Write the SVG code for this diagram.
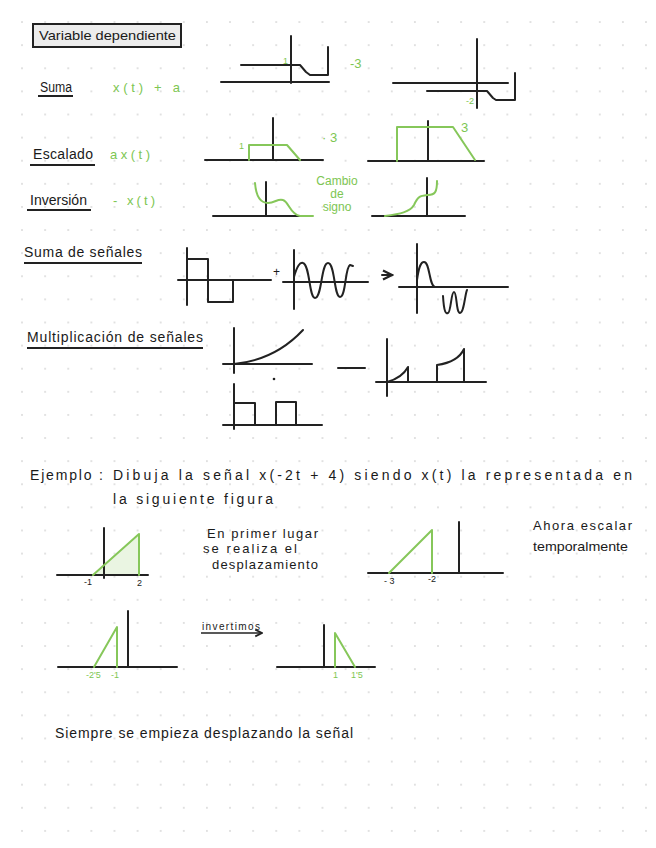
<svg xmlns="http://www.w3.org/2000/svg" width="656" height="848" viewBox="0 0 656 848">
<defs>
<pattern id="dots" x="10.5" y="10.5" width="23.11" height="23.11" patternUnits="userSpaceOnUse">
<circle cx="11.55" cy="11.55" r="1" fill="#d9d9d9"/>
</pattern>
<marker id="ah" viewBox="0 0 8 8" refX="7" refY="4" markerWidth="6" markerHeight="6" orient="auto">
<path d="M1,1 L7,4 L1,7" fill="none" stroke="#222" stroke-width="1.5"/>
</marker>
<style>
.k{fill:none;stroke:#222;stroke-width:2;stroke-linecap:round;stroke-linejoin:round}
.g{fill:none;stroke:#86c75a;stroke-width:2;stroke-linecap:round;stroke-linejoin:round}
.t{font-family:"Liberation Sans",Arial,sans-serif;font-size:14px;fill:#1a1a1a}
.tg{font-family:"Liberation Sans",Arial,sans-serif;font-size:13px;fill:#7dc652}
.s{font-size:9px}
.u{stroke:#222;stroke-width:2}
</style>
</defs>
<rect width="656" height="848" fill="#fff"/>
<rect width="656" height="848" fill="url(#dots)"/>

<g id="title">
<rect x="33" y="24" width="148" height="23" fill="#ececec" stroke="#222" stroke-width="2"/>
<text class="t" x="39" y="40" textLength="137" lengthAdjust="spacingAndGlyphs" style="font-size:13px">Variable dependiente</text>
</g>

<g id="suma">
<text class="t" x="40" y="92" textLength="32" lengthAdjust="spacingAndGlyphs">Suma</text>
<line class="u" x1="38" y1="96" x2="73" y2="96"/>
<text class="tg" x="113" y="92" textLength="67" lengthAdjust="spacing">x(t) + a</text>
<line class="k" x1="221" y1="82" x2="329" y2="82"/>
<line class="k" x1="291" y1="36" x2="291" y2="83"/>
<polyline class="k" points="241,65 300,65 306,72 310,75 328,75 328,47"/>
<text class="tg s" x="283" y="64">1</text>
<text class="tg" x="350" y="68">-3</text>
<line class="k" x1="393" y1="83" x2="508" y2="83"/>
<line class="k" x1="477" y1="39" x2="477" y2="108"/>
<polyline class="k" points="427,91 487,91 493,98 496,100 515,100 515,73"/>
<text class="tg s" x="466" y="104">-2</text>
</g>

<g id="escalado">
<text class="t" x="33" y="159" textLength="60" lengthAdjust="spacing">Escalado</text>
<line class="u" x1="30" y1="165" x2="95" y2="165"/>
<text class="tg" x="110" y="159" textLength="40" lengthAdjust="spacing">ax(t)</text>
<line class="k" x1="205" y1="160" x2="323" y2="160"/>
<line class="k" x1="273" y1="118" x2="273" y2="160"/>
<polyline class="g" points="249,160 249,145 287,145 300,160"/>
<text class="tg s" x="239" y="149">1</text>
<text class="tg" x="322" y="142">· 3</text>
<line class="k" x1="368" y1="161" x2="484" y2="161"/>
<line class="k" x1="428" y1="121" x2="428" y2="161"/>
<polyline class="g" points="397,161 397,127 453,127 475,160"/>
<text class="tg" x="461" y="132">3</text>
</g>

<g id="inversion">
<text class="t" x="30" y="205" textLength="57" lengthAdjust="spacingAndGlyphs">Inversión</text>
<line class="u" x1="27" y1="210" x2="91" y2="210"/>
<text class="tg" x="113" y="205" textLength="42" lengthAdjust="spacing">- x(t)</text>
<line class="k" x1="213" y1="216" x2="300" y2="216"/>
<line class="k" x1="266" y1="182" x2="266" y2="216"/>
<path class="g" d="M255,183 C256,196 260,203 268,203 C275,203 278,198 283,200 C289,202 290,214 300,216 L313,216"/>
<text class="tg" x="337" y="185" text-anchor="middle" style="font-size:12px">Cambio</text>
<text class="tg" x="337" y="198" text-anchor="middle" style="font-size:12px">de</text>
<text class="tg" x="337" y="211" text-anchor="middle" style="font-size:12px">signo</text>
<line class="k" x1="372" y1="216" x2="465" y2="216"/>
<line class="k" x1="427" y1="178" x2="427" y2="216"/>
<path class="g" d="M385,216 C400,214 410,212 414,205 C418,196 420,196 428,195 C435,195 437,192 437,181"/>
</g>

<g id="suma-senales">
<text class="t" x="24" y="257" textLength="118" lengthAdjust="spacing">Suma de señales</text>
<line class="u" x1="24" y1="263" x2="142" y2="263"/>
<line class="k" x1="178" y1="280" x2="271" y2="280"/>
<line class="k" x1="187" y1="248" x2="187" y2="305"/>
<polyline class="k" points="187,259 208,259 208,302 233,302 233,280"/>
<text class="t" x="273" y="276" style="font-size:12px">+</text>
<line class="k" x1="283" y1="282" x2="368" y2="282"/>
<line class="k" x1="294" y1="250" x2="294" y2="309"/>
<path class="k" d="M294,277 C297,266 300,262 303,263 C310,265 309,298 315,298 C322,298 321,263 328,263 C335,263 334,297 340,297 C346,297 345,267 350,265 L353,266"/>
<line class="k" x1="382" y1="275" x2="392" y2="275" marker-end="url(#ah)"/>
<line class="k" x1="399" y1="287" x2="508" y2="287"/>
<line class="k" x1="417" y1="244" x2="417" y2="313"/>
<path class="k" d="M417,280 C419,266 421,262 424,262 C430,262 429,286 435,287 L441,287 M443,296 C444,313 446,314 448,313 C451,312 451,292 454,292 C457,292 456,313 460,313 C464,313 465,294 467,290"/>
</g>

<g id="mult-senales">
<text class="t" x="27" y="342" textLength="176" lengthAdjust="spacing">Multiplicación de señales</text>
<line class="u" x1="27" y1="348" x2="203" y2="348"/>
<line class="k" x1="223" y1="364" x2="312" y2="364"/>
<line class="k" x1="234" y1="328" x2="234" y2="373"/>
<path class="k" d="M234,364 Q275,360 303,330"/>
<circle cx="274" cy="379" r="1.3" fill="#222"/>
<line class="k" x1="223" y1="425" x2="322" y2="425"/>
<line class="k" x1="234" y1="384" x2="234" y2="429"/>
<polyline class="k" points="234,403 255,403 255,425"/>
<polyline class="k" points="276,425 276,402 296,402 296,425"/>
<line class="k" x1="338" y1="368" x2="365" y2="368"/>
<line class="k" x1="376" y1="382" x2="486" y2="382"/>
<line class="k" x1="387" y1="339" x2="387" y2="396"/>
<path class="k" d="M387,382 Q402,378 408,367 L408,382"/>
<path class="k" d="M437,382 L437,365 Q458,362 464,349 L464,382"/>
</g>

<g id="ejemplo">
<text class="t" x="30" y="480" textLength="73" lengthAdjust="spacing">Ejemplo :</text>
<text class="t" x="113" y="480" textLength="519" lengthAdjust="spacing">Dibuja la señal x(-2t + 4) siendo x(t) la representada en</text>
<text class="t" x="113" y="504" textLength="160" lengthAdjust="spacing">la siguiente figura</text>
</g>

<g id="graf1">
<polygon points="93,575 139,534 139,575" fill="#eaf5e2"/>
<line class="k" x1="57" y1="575" x2="148" y2="575"/>
<line class="k" x1="104" y1="528" x2="104" y2="578"/>
<polyline class="g" points="93,575 139,534 139,575"/>
<text class="t s" x="84" y="585">-1</text>
<text class="t s" x="137" y="586">2</text>
</g>

<g id="nota1">
<text class="t" x="207" y="538" textLength="111" lengthAdjust="spacing" style="font-size:13px">En primer lugar</text>
<text class="t" x="203" y="553" textLength="94" lengthAdjust="spacing" style="font-size:13px">se realiza el</text>
<text class="t" x="212" y="569" textLength="106" lengthAdjust="spacing" style="font-size:13px">desplazamiento</text>
</g>

<g id="graf2">
<line class="k" x1="368" y1="573" x2="503" y2="573"/>
<line class="k" x1="459" y1="522" x2="459" y2="573"/>
<polyline class="g" points="389,573 432,530 432,573"/>
<text class="t s" x="384" y="584">- 3</text>
<text class="t s" x="428" y="582">-2</text>
</g>

<g id="nota2">
<text class="t" x="533" y="530" textLength="99" lengthAdjust="spacing" style="font-size:13px">Ahora escalar</text>
<text class="t" x="533" y="551" textLength="95" lengthAdjust="spacingAndGlyphs" style="font-size:13px">temporalmente</text>
</g>

<g id="graf3">
<line class="k" x1="58" y1="667" x2="177" y2="667"/>
<line class="k" x1="128" y1="611" x2="128" y2="667"/>
<polyline class="g" points="94,667 117,627 117,667"/>
<text class="tg s" x="86" y="678">-2'5</text>
<text class="tg s" x="111" y="678">-1</text>
</g>

<g id="invertimos">
<text class="t" x="202" y="630" textLength="58" lengthAdjust="spacing" style="font-size:10px">invertimos</text>
<line x1="201" y1="633" x2="262" y2="633" stroke="#222" stroke-width="1.5" marker-end="url(#ah)"/>
</g>

<g id="graf4">
<line class="k" x1="277" y1="667" x2="375" y2="667"/>
<line class="k" x1="324" y1="625" x2="324" y2="667"/>
<polyline class="g" points="335,667 335,633 355,667"/>
<text class="tg s" x="333" y="678">1</text>
<text class="tg s" x="351" y="678">1'5</text>
</g>

<g id="conclusion">
<text class="t" x="55" y="738" textLength="298" lengthAdjust="spacing">Siempre se empieza desplazando la señal</text>
</g>
</svg>
